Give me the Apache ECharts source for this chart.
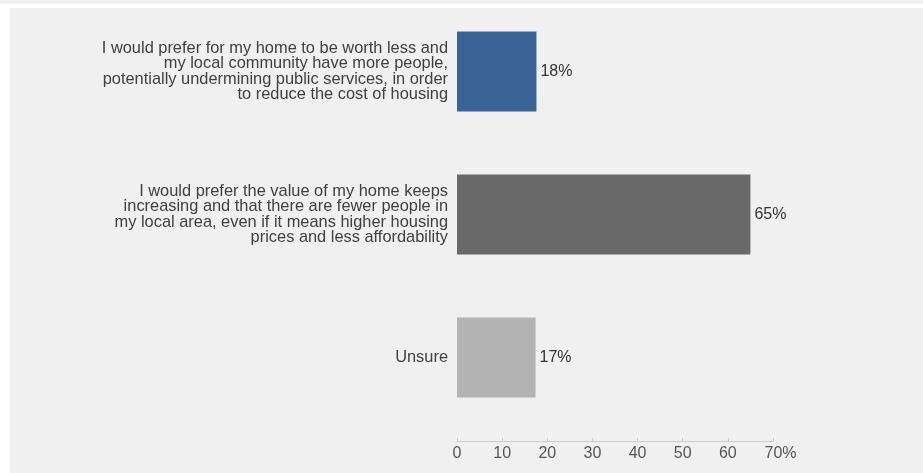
<!DOCTYPE html>
<html>
<head>
<meta charset="utf-8">
<script src="https://cdn.jsdelivr.net/npm/echarts@6/dist/echarts.min.js"></script>
<style>
  html, body { margin: 0; padding: 0; background: #ffffff; }
  #top { position: absolute; left: 0; top: 0; width: 923px; height: 4px; background: #f0f0f0; }
  #panel { position: absolute; left: 10px; top: 8px; width: 913px; height: 465px; background: #f0f0f0; }
  #chart { position: absolute; left: 0; top: 0; width: 923px; height: 473px; }
</style>
</head>
<body>
<div id="top"></div>
<div id="panel"></div>
<div id="chart"></div>
<script>
const categories = [
  'I would prefer for my home to be worth less and\nmy local community have more people,\npotentially undermining public services, in order\nto reduce the cost of housing',
  'I would prefer the value of my home keeps\nincreasing and that there are fewer people in\nmy local area, even if it means higher housing\nprices and less affordability',
  'Unsure'
]
// bar lengths; labels as printed
const values = [17.6, 65, 17.4]
const valueLabels = ['18%', '65%', '17%']
const barColors = ['#3a6496', '#696969', '#b3b3b3']

const chart = echarts.init(document.getElementById('chart'))

const option = {
  animation: false,
  textStyle: { fontFamily: 'Liberation Sans, Arial, sans-serif' },
  grid: { left: 457, right: 150, top: 0, bottom: 44 },
  xAxis: {
    type: 'value',
    min: 0,
    max: 70,
    interval: 10,
    offset: 12,
    splitLine: { show: false },
    axisLine: { show: true, lineStyle: { color: '#cccccc' } },
    axisTick: { show: true, inside: true, length: 3, lineStyle: { color: '#cccccc' } },
    axisLabel: {
      color: '#555555',
      fontSize: 16,
      margin: 5,
      formatter: function (v) { return v === 70 ? '{last|70%}' : String(v) },
      rich: {
        last: { color: '#555555', fontSize: 16, padding: [0, 0, 0, 15] }
      }
    }
  },
  yAxis: {
    type: 'category',
    inverse: true,
    data: categories,
    axisLine: { show: false },
    axisTick: { show: false },
    axisLabel: {
      color: '#404040',
      fontSize: 16.4,
      lineHeight: 15.3,
      align: 'right',
      margin: 9
    }
  },
  series: [
    {
      type: 'bar',
      barWidth: 80,
      data: values.map(function (v, i) {
        return { value: v, itemStyle: { color: barColors[i] } }
      }),
      label: {
        show: true,
        position: 'right',
        distance: 4,
        color: '#333333',
        fontSize: 16,
        formatter: function (p) { return valueLabels[p.dataIndex] }
      }
    }
  ]
}

chart.setOption(option)
</script>
</body>
</html>
